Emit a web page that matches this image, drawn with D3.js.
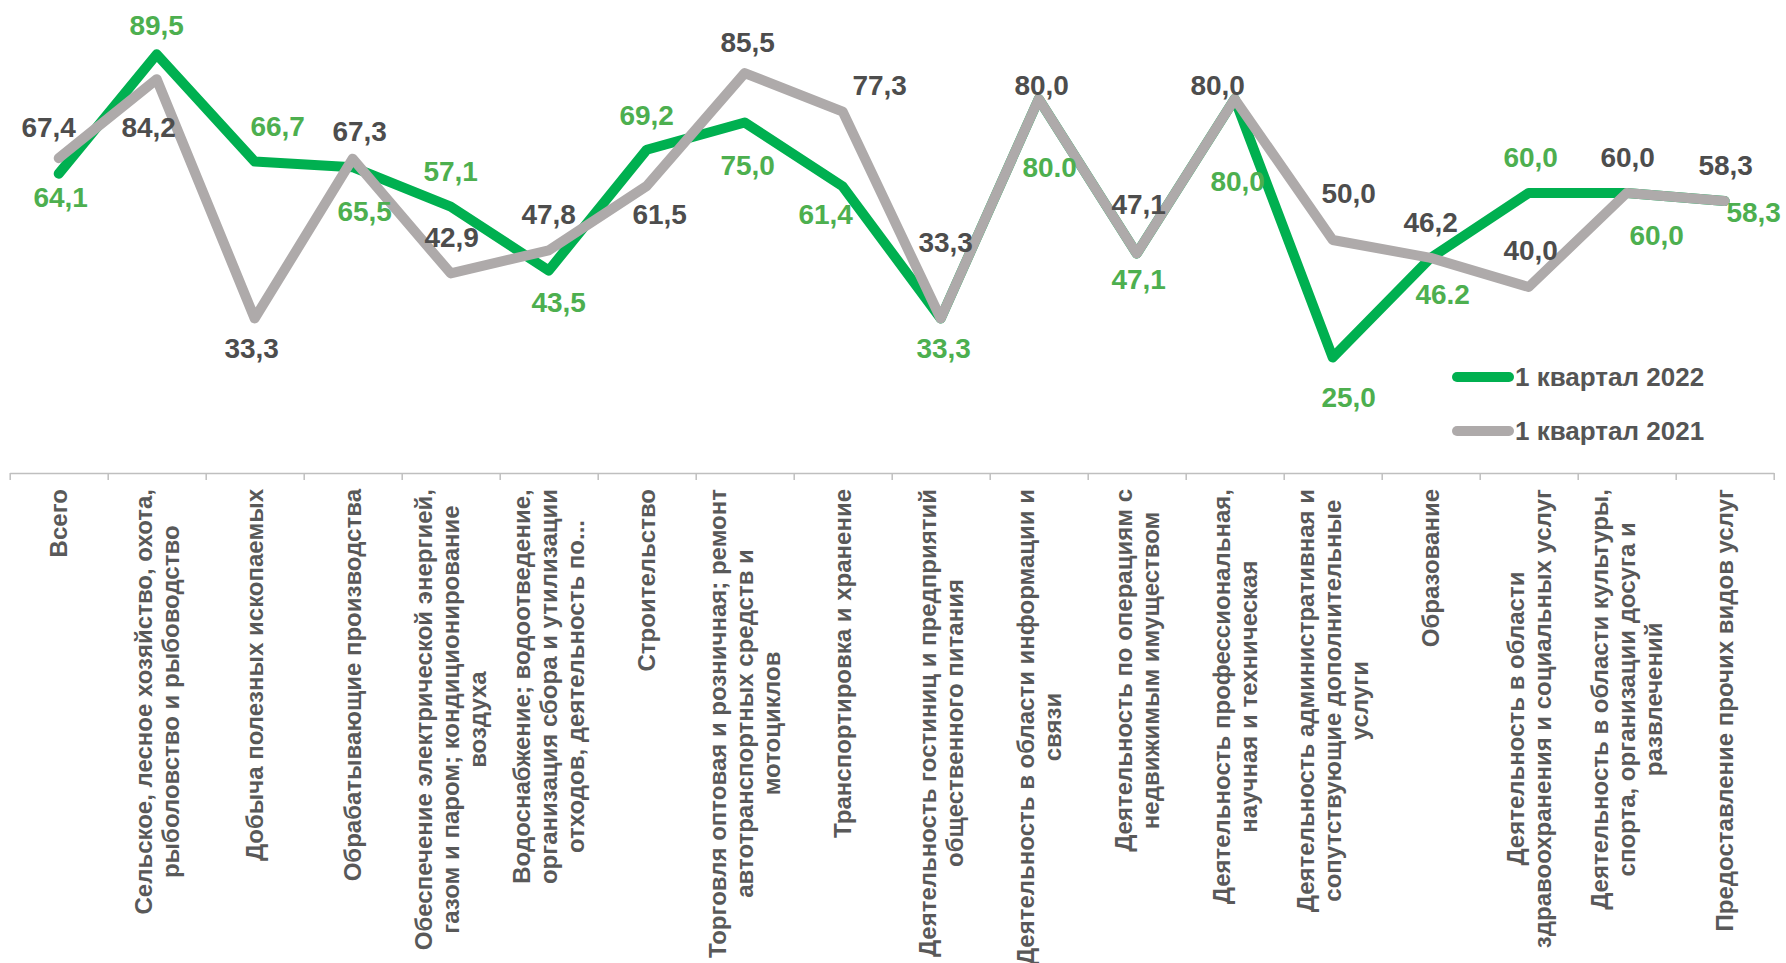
<!DOCTYPE html>
<html>
<head>
<meta charset="utf-8">
<script src="https://cdn.jsdelivr.net/npm/d3@7"></script>
<style>
  body { margin: 0; background: #fff; }
  text { font-family: "Liberation Sans", Arial, sans-serif; font-weight: bold; }
</style>
</head>
<body>
<div id="chart"></div>
<script>
const w = 1786;
const h = 963;

const categories = [
  "Всего",
  "Сельское, лесное хозяйство, охота,\nрыболовство и рыбоводство",
  "Добыча полезных ископаемых",
  "Обрабатывающие производства",
  "Обеспечение электрической энергией,\nгазом и паром; кондиционирование\nвоздуха",
  "Водоснабжение; водоотведение,\nорганизация сбора и утилизации\nотходов, деятельность по...",
  "Строительство",
  "Торговля оптовая и розничная; ремонт\nавтотранспортных средств и\nмотоциклов",
  "Транспортировка и хранение",
  "Деятельность гостиниц и предприятий\nобщественного питания",
  "Деятельность в области информации и\nсвязи",
  "Деятельность по операциям с\nнедвижимым имуществом",
  "Деятельность профессиональная,\nнаучная и техническая",
  "Деятельность административная и\nсопутствующие дополнительные\nуслуги",
  "Образование",
  "Деятельность в области\nздравоохранения и социальных услуг",
  "Деятельность в области культуры,\nспорта, организации досуга и\nразвлечений",
  "Предоставление прочих видов услуг"
];

const values2022 = [64.1, 89.5, 66.7, 65.5, 57.1, 43.5, 69.2, 75.0, 61.4, 33.3, 80.0, 47.1, 80.0, 25.0, 46.2, 60.0, 60.0, 58.3];
const values2021 = [67.4, 84.2, 33.3, 67.3, 42.9, 47.8, 61.5, 85.5, 77.3, 33.3, 80.0, 47.1, 80.0, 50.0, 46.2, 40.0, 60.0, 58.3];
const seriesNames = ["1 квартал 2022", "1 квартал 2021"];
// two labels of 2022 are written with a dot in the source chart
const dotLabels2022 = [10, 14];

// hand placed data labels (offset of the baseline from the point)
const labelDx2022 = [2, 0, 23, 12, 0, 10, 0, 3, -17, 3, 11, 2, 3, 16, 12, 2, 30, 29];
const labelDy2022 = [33, -19, -26, 54, -26, 41, -25, 52, 38, 40, 78, 35, 92, 49, 46, -26, 52, 21];
const labelDx2021 = [-10, -8, -3, 7, 1, 0, 13, 3, 37, 5, 3, 2, -17, 16, 0, 2, 1, 1];
const labelDy2021 = [-21, 58, 40, -18, -26, -26, 38, -21, -17, -66, -4, -40, -4, -37, -26, -27, -26, -26];

const green = '#00b050';
const grey = '#aeaaaa';

const svg = d3.select('#chart').
append('svg').
attr('width', w).
attr('height', h);

const xLeft = 9.7;
const xRight = 1773.7;
const axisY = 473;

const xBand = d3.scaleBand().
domain(categories).
range([xLeft, xRight]);

const xEdge = d3.scaleLinear().
domain([0, categories.length]).
range([xLeft, xRight]);

const yScale = d3.scaleLinear().
domain([0, 100]).
range([475, 5]);

const cx = i => xBand(categories[i]) + xBand.bandwidth() / 2;

// category axis with ticks between categories
const xAxis = d3.axisBottom(xEdge).
tickValues(d3.range(categories.length + 1)).
tickFormat('').
tickSize(7).
tickSizeOuter(0);

const axisG = svg.append('g').
attr('transform', 'translate(0,' + axisY + ')').
call(xAxis);
axisG.selectAll('path, line').attr('stroke', '#bfbfbf').attr('stroke-width', 1.5);

// rotated category labels, lines centred on each other, block hanging from the axis
const fs = 24;
const lh = 27;
const labelTop = 489;
categories.forEach((c, i) => {
  const lines = c.split('\n');
  const g = svg.append('g').
  attr('transform', 'translate(' + cx(i) + ',' + labelTop + ') rotate(-90)');
  const texts = lines.map((line, k) => g.append('text').
  attr('y', (k - (lines.length - 1) / 2) * lh + 0.36 * fs).
  attr('text-anchor', 'middle').
  attr('font-size', fs).
  attr('fill', '#595959').
  text(line));
  const maxW = d3.max(texts, t => t.node().getComputedTextLength());
  texts.forEach(t => t.attr('x', -maxW / 2));
});

const line = d3.line().
x((d, i) => cx(i)).
y(d => yScale(d));

svg.append('path').
datum(values2022).
attr('d', line).
attr('fill', 'none').
attr('stroke', green).
attr('stroke-width', 10).
attr('stroke-linecap', 'round').
attr('stroke-linejoin', 'round');

svg.append('path').
datum(values2021).
attr('d', line).
attr('fill', 'none').
attr('stroke', grey).
attr('stroke-width', 10).
attr('stroke-linecap', 'round').
attr('stroke-linejoin', 'round');

const fmt = d3.format('.1f');

svg.selectAll('.lbl2022').
data(values2022).
enter().
append('text').
attr('class', 'lbl2022').
attr('x', (d, i) => cx(i) + labelDx2022[i]).
attr('y', (d, i) => yScale(d) + labelDy2022[i]).
attr('text-anchor', 'middle').
attr('font-size', 28).
attr('fill', '#4daf4f').
text((d, i) => dotLabels2022.includes(i) ? fmt(d) : fmt(d).replace('.', ','));

svg.selectAll('.lbl2021').
data(values2021).
enter().
append('text').
attr('class', 'lbl2021').
attr('x', (d, i) => cx(i) + labelDx2021[i]).
attr('y', (d, i) => yScale(d) + labelDy2021[i]).
attr('text-anchor', 'middle').
attr('font-size', 28).
attr('fill', '#4d4d4d').
text(d => fmt(d).replace('.', ','));

// legend
const legend = svg.append('g').attr('transform', 'translate(1453,377)');
[green, grey].forEach((col, k) => {
  const row = legend.append('g').attr('transform', 'translate(0,' + k * 54 + ')');
  row.append('line').
  attr('x1', 4).attr('x2', 56).
  attr('y1', 0).attr('y2', 0).
  attr('stroke', col).
  attr('stroke-width', 10).
  attr('stroke-linecap', 'round');
  row.append('text').
  attr('x', 62).
  attr('y', 9).
  attr('font-size', 26).
  attr('fill', '#555555').
  text(seriesNames[k]);
});
</script>
</body>
</html>
